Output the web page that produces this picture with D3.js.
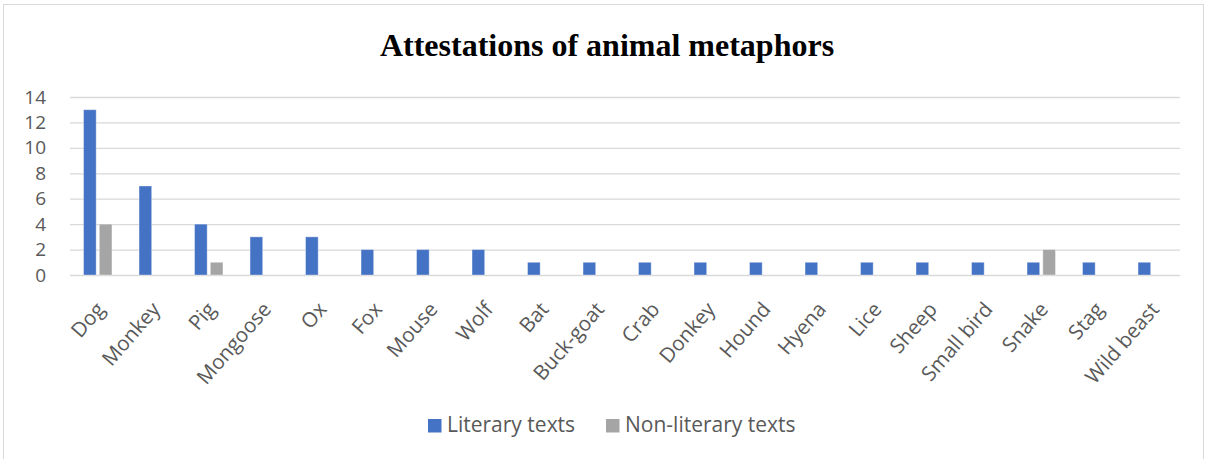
<!DOCTYPE html>
<html>
<head>
<meta charset="utf-8">
<script src="https://cdn.jsdelivr.net/npm/d3@7"></script>
<style>
  body { margin: 0; background: #fff; }
  svg { display: block; }
</style>
</head>
<body>
<div id="chart"></div>
<script>
const W = 1206, H = 459;
const margin = { top: 97, right: 26, bottom: 184, left: 70 },
  width = 1180 - margin.left,
  height = 275 - margin.top;

const categories = ["Dog", "Monkey", "Pig", "Mongoose", "Ox", "Fox", "Mouse", "Wolf", "Bat",
  "Buck-goat", "Crab", "Donkey", "Hound", "Hyena", "Lice", "Sheep", "Small bird", "Snake",
  "Stag", "Wild beast"];
const literary = [13, 7, 4, 3, 3, 2, 2, 2, 1, 1, 1, 1, 1, 1, 1, 1, 1, 1, 1, 1];
const nonLiterary = [4, 0, 1, 0, 0, 0, 0, 0, 0, 0, 0, 0, 0, 0, 0, 0, 0, 2, 0, 0];
const seriesNames = ["Literary texts", "Non-literary texts"];
const colors = ["#4472C4", "#A5A5A5"];
const yTicks = [0, 2, 4, 6, 8, 10, 12, 14];

const svg = d3.select("#chart").append("svg")
  .attr("width", W).attr("height", H);

// outer frame
svg.append("rect")
  .attr("x", 3.5).attr("y", 4.5)
  .attr("width", 1200).attr("height", 470)
  .attr("fill", "none").attr("stroke", "#d9d9d9").attr("stroke-width", 1);

svg.append("text")
  .attr("x", 607).attr("y", 56)
  .attr("text-anchor", "middle")
  .style("font-family", "'Liberation Serif', 'Times New Roman', serif")
  .style("font-weight", "bold")
  .style("font-size", "32px")
  .attr("fill", "#000")
  .text("Attestations of animal metaphors");

const g = svg.append("g")
  .attr("transform", `translate(${margin.left}, ${margin.top})`);

const x0 = d3.scaleBand().domain(categories).range([0, width]).padding(0);
const bw = x0.bandwidth();
const x1 = d3.scaleBand().domain(seriesNames)
  .range([bw / 2 - 14.2, bw / 2 + 14.2]).paddingInner(0.2);
const y = d3.scaleLinear().domain([0, 14]).range([height, 0]);

// gridlines
g.append("g")
  .call(d3.axisLeft(y).tickValues(yTicks).tickSize(-width).tickFormat(""))
  .call((s) => s.select(".domain").remove())
  .call((s) => s.selectAll("line").attr("stroke", "#d9d9d9").attr("stroke-width", 1.3));

// y tick labels
g.append("g")
  .call(d3.axisLeft(y).tickValues(yTicks).tickSize(0).tickPadding(24))
  .call((s) => s.select(".domain").remove())
  .call((s) => s.selectAll("text")
    .attr("fill", "#595959")
    .style("font-family", "'Open Sans', sans-serif")
    .style("font-size", "19px"));

const rows = categories.map((c, i) => ({ cat: c, vals: [literary[i], nonLiterary[i]] }));

const groups = g.selectAll("g.cat")
  .data(rows)
  .join("g")
  .attr("class", "cat")
  .attr("transform", (d) => `translate(${x0(d.cat)},0)`);

groups.selectAll("rect")
  .data((d) => d.vals.map((v, k) => ({ key: seriesNames[k], v, k })).filter((e) => e.v > 0))
  .join("rect")
  .attr("x", (d) => x1(d.key))
  .attr("width", x1.bandwidth())
  .attr("y", (d) => y(d.v))
  .attr("height", (d) => height - y(d.v))
  .attr("fill", (d) => colors[d.k])
  .attr("stroke", "#ffffff")
  .attr("stroke-opacity", 0.35)
  .attr("stroke-width", 1);

// x axis labels
g.append("g")
  .attr("transform", `translate(0, ${height})`)
  .call(d3.axisBottom(x0).tickSize(0).tickPadding(0))
  .call((s) => s.select(".domain").remove())
  .call((s) => s.selectAll("text")
    .attr("text-anchor", "end")
    .attr("dy", 0)
    .attr("y", 0)
    .attr("transform", "translate(8, 35) rotate(-49)")
    .attr("fill", "#595959")
    .style("font-family", "'Open Sans', sans-serif")
    .style("font-size", "20.5px"));

// legend
const legendX = [428, 606];
const legend = svg.append("g");
seriesNames.forEach((name, k) => {
  legend.append("rect")
    .attr("x", legendX[k]).attr("y", 419)
    .attr("width", 13.5).attr("height", 13.5)
    .attr("fill", colors[k]);
  legend.append("text")
    .attr("x", legendX[k] + 19).attr("y", 432)
    .attr("fill", "#595959")
    .style("font-family", "'Open Sans', sans-serif")
    .style("font-size", "21px")
    .text(name);
});
</script>
</body>
</html>
